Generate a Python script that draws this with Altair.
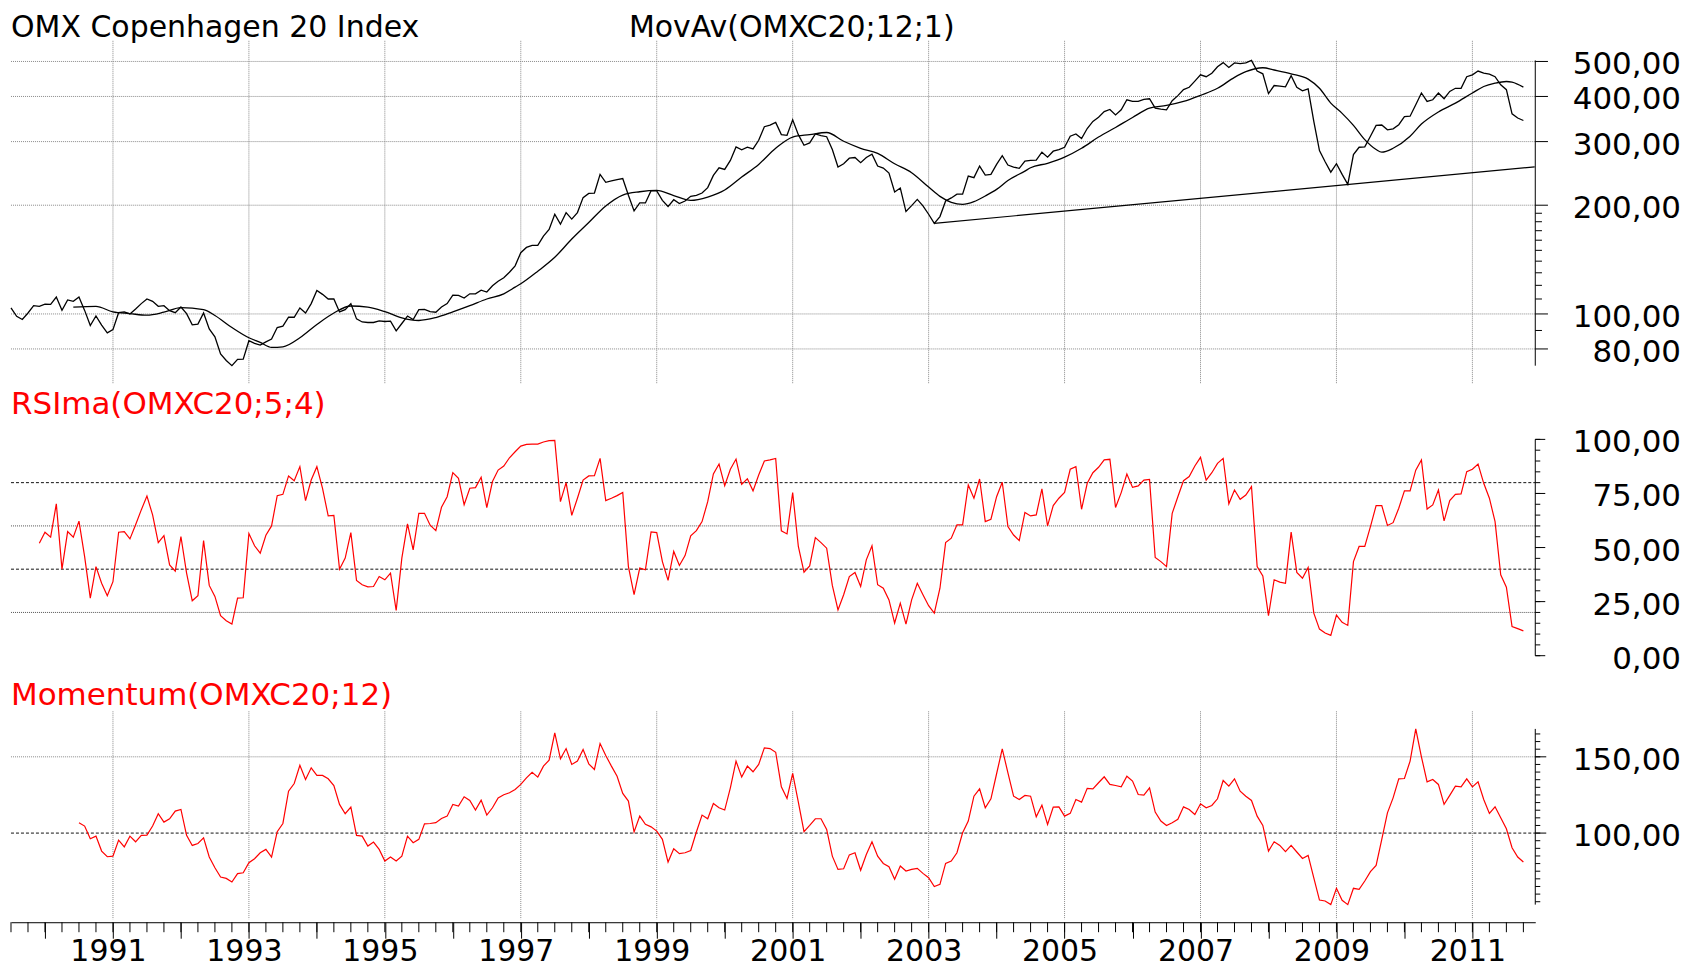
import altair as alt
import pandas as pd

# ---------------- data ----------------
price_start = "1989-07"
price = [
    103.9, 98.5, 96.5, 100.6, 105.4, 105.0, 106.5, 106.3, 111.4, 102.3, 109.3, 108.4,
    111.4, 102.3, 92.9, 98.7, 93.1, 88.6, 90.5, 100.8, 101.3, 100.0, 103.2, 106.8,
    110.0, 108.4, 105.0, 105.4, 102.1, 100.8, 104.5, 100.2, 93.3, 93.7, 100.6, 90.9,
    86.4, 77.5, 74.3, 71.9, 74.9, 75.0, 84.3, 82.9, 82.0, 83.7, 85.2, 91.7,
    92.5, 97.9, 97.9, 103.9, 100.6, 106.8, 116.2, 113.3, 110.0, 110.0, 101.3, 102.8,
    106.8, 96.9, 95.0, 94.7, 94.7, 95.7, 95.3, 95.5, 89.8, 94.1, 98.7, 96.5,
    102.8, 103.0, 101.5, 101.1, 104.5, 106.8, 112.8, 112.6, 110.7, 113.7, 113.7, 116.4,
    115.0, 119.7, 123.2, 125.9, 130.5, 135.9, 147.8, 152.8, 154.8, 154.8, 164.3, 171.4,
    188.8, 177.2, 190.8, 183.1, 190.8, 209.9, 215.6, 216.1, 243.4, 231.5, 233.5, 235.5,
    237.0, 213.0, 192.9, 202.9, 202.9, 219.4, 219.0, 206.3, 198.3, 207.1, 202.1, 205.4,
    211.6, 213.0, 216.1, 223.7, 241.8, 253.9, 251.2, 266.1, 290.0, 284.6, 289.4, 286.4,
    302.6, 329.9, 333.4, 339.0, 313.6, 312.3, 344.8, 313.6, 293.0, 297.4, 315.0, 311.6,
    309.5, 285.2, 255.1, 260.5, 269.9, 271.1, 262.3, 271.1, 277.0, 256.7, 253.4, 245.5,
    217.6, 223.2, 192.1, 199.5, 207.6, 199.1, 188.8, 178.1, 186.0, 205.4, 209.5, 214.6,
    214.6, 240.8, 238.4, 256.7, 242.3, 243.4, 259.4, 274.3, 258.3, 255.1, 253.0, 265.0,
    266.1, 266.6, 280.4, 271.7, 282.2, 285.2, 289.4, 310.4, 315.0, 305.9, 326.1, 341.3,
    350.5, 363.3, 368.1, 355.6, 367.3, 391.7, 387.6, 387.6, 392.5, 394.2, 371.3, 368.9,
    367.3, 389.2, 402.2, 417.8, 424.2, 441.0, 459.2, 453.7, 464.0, 483.3, 496.3, 481.3,
    495.3, 493.1, 495.3, 503.3, 470.3, 462.1, 407.3, 428.9, 427.1, 425.3, 456.5, 424.4,
    414.7, 420.1, 341.3, 283.4, 263.9, 246.9, 260.5, 243.4, 228.3, 276.2, 289.4, 290.0,
    310.4, 332.7, 333.4, 323.5, 325.5, 334.1, 352.0, 352.7, 379.5, 409.0, 387.6, 391.7,
    409.0, 394.2, 413.0, 421.4, 421.4, 453.7, 459.2, 470.3, 464.0, 461.2, 453.7, 430.8,
    417.8, 358.0, 348.7, 343.2,
]

ma_dates = [
    "1990-06", "1990-10", "1991-01", "1991-04", "1991-07", "1991-10", "1992-01", "1992-05",
    "1992-07", "1992-10", "1993-01", "1993-03", "1993-05", "1993-07", "1993-10", "1994-01",
    "1994-04", "1994-07", "1994-10", "1995-01", "1995-04", "1995-07", "1995-10", "1996-01",
    "1996-04", "1996-07", "1996-10", "1996-12", "1997-01", "1997-04", "1997-07", "1997-10",
    "1998-01", "1998-04", "1998-07", "1998-10", "1999-01", "1999-04", "1999-07", "1999-10",
    "2000-01", "2000-04", "2000-07", "2000-10", "2001-01", "2001-04", "2001-07", "2001-10",
    "2002-01", "2002-04", "2002-07", "2002-10", "2003-01", "2003-03", "2003-05", "2003-07",
    "2003-09", "2003-11", "2004-01", "2004-03", "2004-06", "2004-07", "2004-10", "2005-01",
    "2005-04", "2005-07", "2005-10", "2006-01", "2006-04", "2006-07", "2006-10", "2007-01",
    "2007-04", "2007-07", "2007-09", "2007-12", "2008-02", "2008-05", "2008-08", "2008-10",
    "2008-12", "2009-02", "2009-04", "2009-06", "2009-08", "2009-09", "2009-11", "2010-02",
    "2010-04", "2010-07", "2010-10", "2011-01", "2011-03", "2011-05", "2011-07", "2011-08",
    "2011-10",
]
ma_values = [
    104.5, 105.0, 101.3, 100.2, 99.2, 101.1, 104.1, 102.8,
    99.0, 91.7, 85.9, 83.4, 80.8, 81.1, 85.9, 93.5,
    100.6, 105.2, 104.5, 101.5, 97.5, 95.9, 97.7, 101.3,
    105.4, 110.0, 113.7, 118.6, 121.2, 131.3, 143.5, 161.2,
    179.1, 199.0, 213.4, 217.9, 219.8, 212.6, 206.3, 210.7,
    220.3, 239.3, 259.4, 287.5, 308.8, 313.6, 317.9, 300.6,
    287.5, 278.2, 260.5, 246.0, 224.5, 211.6, 203.7, 201.1,
    204.5, 212.1, 221.2, 234.1, 248.6, 253.9, 261.3, 271.7,
    287.5, 308.8, 328.3, 349.9, 371.3, 377.7, 387.6, 403.0,
    421.4, 451.9, 468.4, 480.4, 473.5, 462.1, 446.7, 421.4,
    383.4, 359.2, 332.7, 303.8, 285.2, 280.4, 287.5, 310.4,
    335.5, 362.4, 383.4, 409.0, 426.2, 435.3, 440.0, 438.0,
    424.4,
]

trend_dates = ["2003-02", "2011-12"]
trend_values = [178.1, 255.4]

rsi_start = "1989-12"
rsi = [
    52.0, 57.1, 54.8, 70.2, 40.0, 57.4, 54.8,
    62.2, 45.8, 26.6, 41.2, 33.5, 27.7, 34.2, 57.1, 57.4, 54.0, 60.5, 67.4,
    73.8, 65.1, 52.3, 55.5, 42.0, 39.1, 55.1, 38.2, 25.4, 27.7, 53.2, 32.5,
    27.4, 18.5, 16.2, 14.6, 26.6, 26.8, 56.5, 50.8, 47.4, 55.7, 60.0, 74.0,
    74.6, 83.1, 80.9, 87.4, 71.7, 81.2, 87.4, 77.4, 64.6, 64.9, 40.0, 45.1,
    56.9, 34.8, 32.8, 31.8, 32.0, 36.6, 35.1, 38.2, 20.9, 45.1, 60.9, 48.9,
    65.8, 65.8, 60.3, 57.8, 68.6, 73.5, 84.6, 82.0, 69.8, 77.4, 77.7, 82.5,
    68.5, 80.5, 85.8, 87.7, 91.5, 94.3, 96.9, 97.7, 97.8, 97.8, 98.8, 99.4,
    99.5, 71.2, 80.0, 64.9, 72.8, 81.2, 83.1, 83.2, 91.2, 71.7, 72.8, 74.0,
    75.5, 41.2, 28.2, 40.5, 39.7, 57.2, 56.9, 43.5, 34.8, 48.2, 41.7, 46.3,
    55.4, 57.8, 62.0, 71.2, 84.0, 88.6, 78.6, 86.2, 90.9, 79.2, 81.8, 76.2,
    83.5, 90.0, 90.5, 91.2, 57.7, 56.3, 75.4, 50.5, 38.6, 41.5, 54.6, 52.3,
    49.7, 32.5, 21.2, 28.2, 36.6, 38.5, 32.0, 44.3, 50.8, 32.8, 31.2, 25.8,
    15.1, 24.3, 14.6, 25.8, 33.5, 28.2, 23.1, 19.7, 31.2, 52.3, 54.3, 60.5,
    60.5, 78.9, 72.8, 81.7, 62.0, 63.1, 73.5, 80.2, 59.7, 55.8, 53.2, 66.2,
    64.6, 65.1, 77.1, 60.0, 69.4, 72.8, 75.5, 86.2, 87.4, 67.7, 79.7, 84.6,
    87.1, 90.5, 90.8, 68.5, 75.4, 84.0, 77.8, 78.5, 81.2, 81.5, 45.4, 43.5,
    41.2, 65.8, 73.5, 80.9, 82.8, 87.7, 91.7, 81.2, 84.6, 88.9, 91.2, 70.2,
    76.6, 72.3, 74.3, 78.2, 41.2, 36.9, 18.5, 35.1, 34.0, 33.5, 57.1, 38.5,
    35.8, 40.8, 19.7, 12.3, 10.5, 9.4, 18.8, 15.4, 14.0, 43.5, 50.5, 50.5,
    59.7, 69.4, 69.4, 60.2, 61.5, 68.2, 76.2, 76.2, 85.8, 90.5, 67.8, 69.7,
    76.6, 62.3, 71.7, 74.6, 74.8, 85.1, 86.2, 88.6, 79.7, 72.8, 62.0, 37.4,
    31.7, 13.5, 12.5, 11.5,
]

mom_start = "1990-07"
momentum = [
    106.8, 104.6, 96.3, 98.0, 88.2, 84.5, 84.9, 95.4, 91.0, 98.0, 94.3, 98.5,
    98.7, 104.6, 112.7, 107.2, 109.4, 114.4, 115.5, 98.5, 91.9, 93.2, 96.9, 84.3,
    77.3, 71.2, 70.3, 67.9, 73.4, 74.0, 80.6, 83.2, 87.1, 89.3, 84.3, 100.9,
    106.3, 127.5, 132.5, 144.5, 135.1, 142.8, 137.8, 137.8, 135.6, 131.2, 118.8, 112.7,
    117.0, 98.5, 98.0, 91.5, 94.1, 89.3, 81.7, 84.3, 81.7, 84.9, 98.0, 93.7,
    95.9, 106.1, 106.3, 106.8, 109.6, 111.1, 118.8, 117.7, 123.8, 121.4, 115.1, 121.6,
    111.8, 116.6, 123.1, 125.1, 126.4, 128.6, 131.9, 136.2, 139.9, 136.7, 143.9, 147.8,
    165.7, 148.7, 155.4, 145.0, 147.2, 154.8, 145.4, 141.7, 158.7, 150.9, 143.9, 137.3,
    126.0, 121.0, 100.7, 111.1, 105.7, 104.1, 101.3, 95.9, 81.0, 89.7, 86.5, 87.1,
    88.6, 100.7, 111.8, 109.4, 119.4, 116.6, 115.1, 129.7, 147.2, 136.7, 143.9, 140.2,
    145.0, 155.9, 155.4, 153.0, 130.3, 122.7, 139.1, 120.3, 100.9, 105.0, 109.4, 109.4,
    102.4, 84.9, 76.2, 76.6, 85.7, 87.1, 75.6, 86.0, 94.3, 84.9, 80.1, 78.0,
    69.7, 78.4, 75.1, 76.2, 76.9, 73.6, 70.7, 64.9, 66.4, 80.1, 81.7, 87.1,
    100.2, 107.9, 124.2, 129.0, 116.6, 122.5, 138.9, 155.2, 139.5, 124.2, 122.0, 124.7,
    124.2, 110.7, 118.3, 105.7, 117.0, 117.2, 111.1, 112.9, 122.0, 120.3, 129.3, 129.0,
    133.0, 136.9, 131.9, 131.2, 130.3, 137.3, 134.1, 125.3, 124.9, 129.7, 113.8, 107.9,
    105.0, 106.8, 109.0, 117.2, 115.5, 112.2, 119.2, 116.6, 118.1, 122.5, 134.5, 130.8,
    135.6, 127.5, 124.2, 121.4, 111.1, 105.0, 88.2, 94.3, 91.9, 87.8, 91.9, 87.6,
    83.4, 85.4, 70.7, 56.1, 55.5, 53.1, 63.8, 55.9, 53.1, 63.8, 63.1, 68.6,
    74.7, 78.8, 95.9, 113.3, 123.1, 135.6, 135.8, 147.2, 168.3, 150.0, 133.6, 135.1,
    131.9, 118.8, 124.7, 130.8, 130.3, 135.6, 130.3, 133.6, 122.0, 112.9, 117.2, 110.0,
    102.8, 90.4, 84.3, 81.0,
]

# axis / guide values
price_major = [80, 100, 200, 300, 400, 500]
price_labels = ["80,00", "100,00", "200,00", "300,00", "400,00", "500,00"]
price_minor = [90, 110, 120, 130, 140, 150, 160, 170, 180, 190]
rsi_major = [0, 25, 50, 75, 100]
rsi_labels = ["0,00", "25,00", "50,00", "75,00", "100,00"]
rsi_minor = list(range(0, 101, 5))
rsi_dashed = [80, 40]
rsi_dotted = [60, 20]
mom_major = [100, 150]
mom_labels = ["100,00", "150,00"]
mom_minor = list(range(55, 170, 5))
mom_dashed = [100]
mom_dotted = [150]
grid_years = list(range(1991, 2012, 2))
axis_years = list(range(1990, 2012))
quarter_ticks = [1989.5 + 0.25 * k for k in range(90)]
x_domain = [1989.5, 2011.925]

title_main = "OMX Copenhagen 20 Index"
title_ma = "MovAv(OMXC20;12;1)"
title_rsi = "RSIma(OMXC20;5;4)"
title_mom = "Momentum(OMXC20;12)"


# ---------------- helpers ----------------
def dec_year(dates):
    d = pd.to_datetime(dates)
    return list(d.year + (d.month - 1) / 12.0)


def monthly(start, values):
    d = pd.date_range(start + "-01", periods=len(values), freq="MS")
    return pd.DataFrame({"t": d.year + (d.month - 1) / 12.0, "v": values})


W, H = 1527, 883
FONT = "DejaVu Sans"
FS = 31
RED = "#ff0000"
GRID = "#8a8a8a"

xs = alt.Scale(domain=x_domain, nice=False, zero=False)
xaxis = alt.Axis(
    values=axis_years, format="d",
    labelExpr="datum.value % 2 == 1 ? datum.label : ''",
    tickSize=16, tickColor="black", tickWidth=1,
    domainColor="black", domainWidth=1,
    labelFont=FONT, labelFontSize=30, labelColor="black",
    labelBaseline="alphabetic", labelPadding=22,
    labelOffset=-5, labelOverlap=False, labelFlush=False,
    grid=False, title=None, orient="bottom",
)
X = alt.X("t:Q", scale=xs, axis=xaxis)

y1 = alt.Scale(type="log", domain=[80, 500], range=[308.7, 20.7], nice=False)
y2s = alt.Scale(domain=[0, 100], range=[616, 399.3], nice=False, zero=False)
y3s = alt.Scale(domain=[100, 150], range=[793.7, 717.3], nice=False, zero=False)


def text_layer(s, x, y, color="black", size=FS):
    return alt.Chart(pd.DataFrame({"s": [s]})).mark_text(
        align="left", baseline="alphabetic", font=FONT, fontSize=size, color=color
    ).encode(x=alt.value(x), y=alt.value(y), text="s:N")


def hrules(vals, scale, dash, color):
    return alt.Chart(pd.DataFrame({"v": vals})).mark_rule(
        color=color, strokeDash=dash, strokeWidth=1
    ).encode(y=alt.Y("v:Q", scale=scale, axis=None), x=alt.value(0), x2=alt.value(W))


def vgrid(y0, y1_):
    return alt.Chart(pd.DataFrame({"t": grid_years})).mark_rule(
        color=GRID, strokeDash=[1, 1], strokeWidth=1
    ).encode(x=X, y=alt.value(y0), y2=alt.value(y1_))


def ticks(vals, scale, length):
    return alt.Chart(pd.DataFrame({"v": vals})).mark_rule(color="black", strokeWidth=1).encode(
        y=alt.Y("v:Q", scale=scale, axis=None), x=alt.value(W), x2=alt.value(W + length)
    )


def labels(vals, labs, scale):
    return alt.Chart(pd.DataFrame({"v": vals, "lab": labs})).mark_text(
        align="right", baseline="middle", dy=4, font=FONT, fontSize=FS, color="black"
    ).encode(y=alt.Y("v:Q", scale=scale, axis=None), x=alt.value(W + 146), text="lab:N")


def axis_line(df, scale):
    return alt.Chart(df).mark_rule(color="black", strokeWidth=1).encode(
        x=alt.value(W),
        y=alt.Y("min(v):Q", scale=scale, axis=None),
        y2=alt.Y2("max(v)"),
    )


# ---------------- panel 1: price ----------------
p_df = monthly(price_start, price)
ma_df = pd.DataFrame({"t": dec_year(ma_dates), "v": ma_values})
tr_df = pd.DataFrame({"t": dec_year(trend_dates), "v": trend_values})
Y1 = alt.Y("v:Q", scale=y1, axis=None)

panel1 = alt.layer(
    hrules(price_major, y1, [1, 1], GRID),
    vgrid(0, 343),
    alt.Chart(tr_df).mark_line(color="black", strokeWidth=1.2).encode(x=X, y=Y1),
    alt.Chart(ma_df).mark_line(color="black", strokeWidth=1.3, interpolate="monotone").encode(x=X, y=Y1),
    alt.Chart(p_df).mark_line(color="black", strokeWidth=1.3).encode(x=X, y=Y1),
    axis_line(p_df, y1),
    ticks(price_major, y1, 12.7),
    ticks(price_minor, y1, 6.7),
    labels(price_major, price_labels, y1),
    text_layer(title_main, 0, -3.5, size=30),
    text_layer(title_ma, 619, -3.5, size=30),
)

# ---------------- panel 2: RSI ----------------
r_df = monthly(rsi_start, rsi)
rsi_range_df = pd.DataFrame({"v": [rsi_major[0], rsi_major[-1]]})
panel2 = alt.layer(
    hrules(rsi_dotted, y2s, [1, 1], "#555555"),
    hrules(rsi_dashed, y2s, [3, 2], "#111111"),
    alt.Chart(r_df).mark_line(color=RED, strokeWidth=1.2).encode(
        x=X, y=alt.Y("v:Q", scale=y2s, axis=None)),
    axis_line(rsi_range_df, y2s),
    ticks(rsi_major, y2s, 10),
    ticks(rsi_minor, y2s, 5),
    labels(rsi_major, rsi_labels, y2s),
    text_layer(title_rsi, 0, 374, RED),
)

# ---------------- panel 3: Momentum ----------------
m_df = monthly(mom_start, momentum)
panel3 = alt.layer(
    hrules(mom_dotted, y3s, [1, 1], GRID),
    hrules(mom_dashed, y3s, [3, 2], "#111111"),
    vgrid(671.7, 880),
    alt.Chart(m_df).mark_line(color=RED, strokeWidth=1.2).encode(
        x=X, y=alt.Y("v:Q", scale=y3s, axis=None)),
    axis_line(m_df, y3s),
    ticks(mom_major, y3s, 11),
    ticks(mom_minor, y3s, 5),
    labels(mom_major, mom_labels, y3s),
    text_layer(title_mom, 0, 665, RED),
    alt.Chart(pd.DataFrame({"t": quarter_ticks})).mark_rule(color="black", strokeWidth=1).encode(
        x=X, y=alt.value(H), y2=alt.value(H + 10)),
)

chart = (
    alt.layer(panel1, panel2, panel3)
    .resolve_scale(y="independent")
    .properties(
        width=W, height=H,
        padding={"left": 3, "top": 32, "right": 155, "bottom": 45},
        autosize=alt.AutoSizeParams(type="none"),
        background="white",
    )
    .configure_view(stroke=None)
)

chart.save("out.html", embed_options={"renderer": "svg", "actions": False})
